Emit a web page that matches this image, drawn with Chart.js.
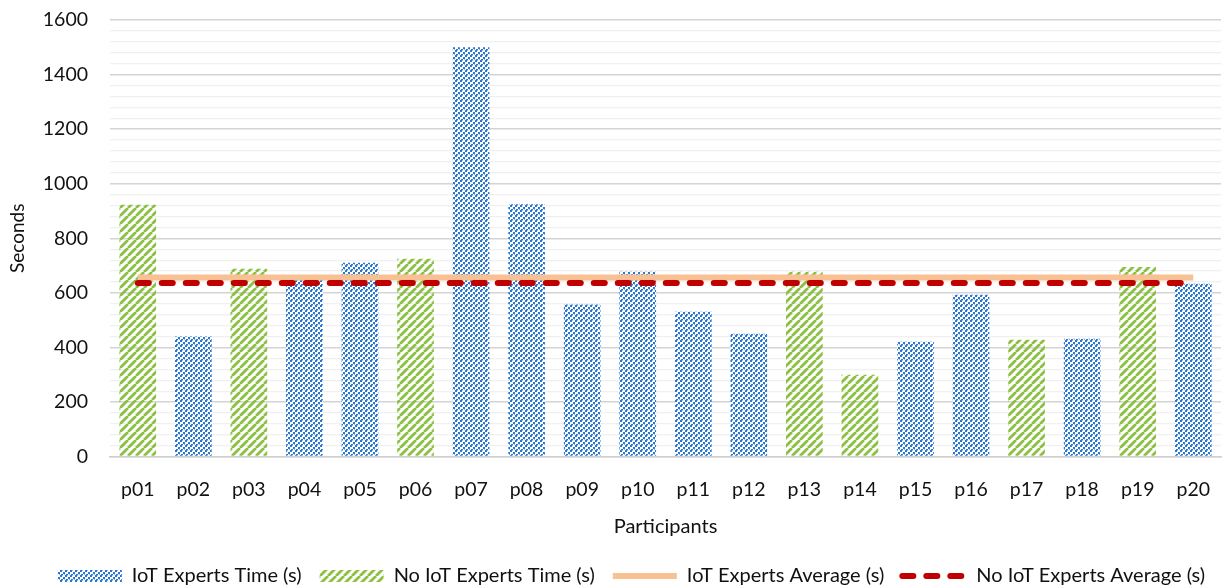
<!DOCTYPE html>
<html>
<head>
<meta charset="utf-8">
<script src="https://cdn.jsdelivr.net/npm/chart.js@4.4.1/dist/chart.umd.min.js"></script>
<style>
  html, body { margin: 0; padding: 0; background: #fff; }
  #wrap { width: 1223px; height: 586px; }
</style>
</head>
<body>
<div id="wrap"><canvas id="c"></canvas></div>
<script>
const participants = ['p01','p02','p03','p04','p05','p06','p07','p08','p09','p10','p11','p12','p13','p14','p15','p16','p17','p18','p19','p20'];
const iotTimes   = [null, 440, null, 655, 710, null, 1500, 925, 557, 677, 531, 450, null, null, 421, 593, null, 432, null, 633];
const noIotTimes = [923, null, 688, null, null, 725, null, null, null, null, null, null, 677, 300, null, null, 428, null, 695, null];
const iotAverage = 656;
const noIotAverage = 636;
const yTickLabels = [0, 200, 400, 600, 800, 1000, 1200, 1400, 1600];

// bar fills
function dotPattern() {
  const c = document.createElement('canvas');
  c.width = 5; c.height = 5;
  const g = c.getContext('2d');
  g.fillStyle = '#fff'; g.fillRect(0, 0, 5, 5);
  g.fillStyle = '#2a78d2';
  g.fillRect(0, 0, 2, 2);
  g.fillRect(3, 2, 2, 2);
  g.fillRect(1, 4, 2, 1);
  g.fillStyle = 'rgba(42,120,210,0.5)';
  g.fillRect(2, 0, 1, 1);
  g.fillRect(4, 4, 1, 1);
  return g.createPattern(c, 'repeat');
}
function hatchPattern() {
  const s = 8;
  const c = document.createElement('canvas');
  c.width = s; c.height = s;
  const g = c.getContext('2d');
  g.strokeStyle = '#8cc043';
  g.lineWidth = 2.8;
  g.beginPath();
  for (let o = -s; o <= s; o += s) {
    g.moveTo(o, s); g.lineTo(o + s, 0);
  }
  g.stroke();
  return g.createPattern(c, 'repeat');
}

// legend sits a little right of centre in the original
const legendShift = {
  id: 'legendShift',
  afterLayout(chart) {
    if (chart.legend) { chart.legend.left += 20; chart.legend.right += 20; }
  },
};

const font = 'Lato, "Open Sans", sans-serif';
Chart.defaults.font.family = font;
Chart.defaults.color = '#111';

new Chart(document.getElementById('c'), {
  type: 'bar',
  data: {
    labels: participants,
    datasets: [
      { label: 'IoT Experts Time (s)', data: iotTimes, backgroundColor: dotPattern(), grouped: false, order: 2, pointStyle: 'rect' },
      { label: 'No IoT Experts Time (s)', data: noIotTimes, backgroundColor: hatchPattern(), grouped: false, order: 2, pointStyle: 'rect' },
      { type: 'line', label: 'IoT Experts Average (s)', data: participants.map(() => iotAverage),
        borderColor: '#f8c194', backgroundColor: '#f8c194', borderWidth: 6, pointRadius: 0, order: 1, pointStyle: 'line' },
      { type: 'line', label: 'No IoT Experts Average (s)', data: participants.map(() => noIotAverage),
        borderColor: '#c00000', backgroundColor: '#c00000', borderWidth: 6, borderDash: [11, 13], borderCapStyle: 'round',
        pointRadius: 0, order: 0, pointStyle: 'line' },
    ]
  },
  plugins: [legendShift],
  options: {
    responsive: true, maintainAspectRatio: false, animation: false,
    layout: { padding: { top: 0, right: 0, left: 0, bottom: -10 } },
    datasets: { bar: { barPercentage: 0.66, categoryPercentage: 1 } },
    plugins: {
      tooltip: { enabled: false },
      legend: {
        position: 'bottom',
        labels: {
          usePointStyle: true, pointStyleWidth: 64, boxHeight: 12,
          font: { size: 20 }, padding: 18,
          sort: (a, b) => a.datasetIndex - b.datasetIndex,
          generateLabels: chart => Chart.defaults.plugins.legend.labels.generateLabels(chart).map(l => {
            const ds = chart.data.datasets[l.datasetIndex];
            l.pointStyle = ds.pointStyle;
            if (ds.type === 'line') {
              l.strokeStyle = ds.borderColor;
              l.lineWidth = ds.borderWidth;
              l.lineDash = ds.borderDash || [];
              l.lineCap = ds.borderCapStyle || 'butt';
            }
            return l;
          }),
        },
      },
    },
    scales: {
      x: {
        grid: { display: false },
        border: { color: '#d0d0d0', width: 1.5 },
        ticks: { font: { size: 19.5 }, padding: 13 },
        title: { display: true, text: 'Participants', font: { size: 20, lineHeight: 1 }, padding: { top: 3, bottom: 11 } },
      },
      y: {
        min: 0, max: 1600,
        border: { display: false },
        grid: { color: ctx => ctx.tick.value % 200 === 0 ? '#d4d4d4' : '#f0f0f0', lineWidth: ctx => ctx.tick.value % 200 === 0 ? 1.5 : 1.2, drawTicks: false },
        ticks: {
          stepSize: 40, autoSkip: false, font: { size: 19.5 }, padding: 22,
          callback: v => yTickLabels.includes(v) ? String(v) : '',
        },
        title: { display: true, text: 'Seconds', font: { size: 19, lineHeight: 1 }, padding: { top: 8, bottom: 8 } },
        afterFit: s => { s.width = 110; s.paddingTop = 20; },
      },
    },
  },
});
</script>
</body>
</html>
